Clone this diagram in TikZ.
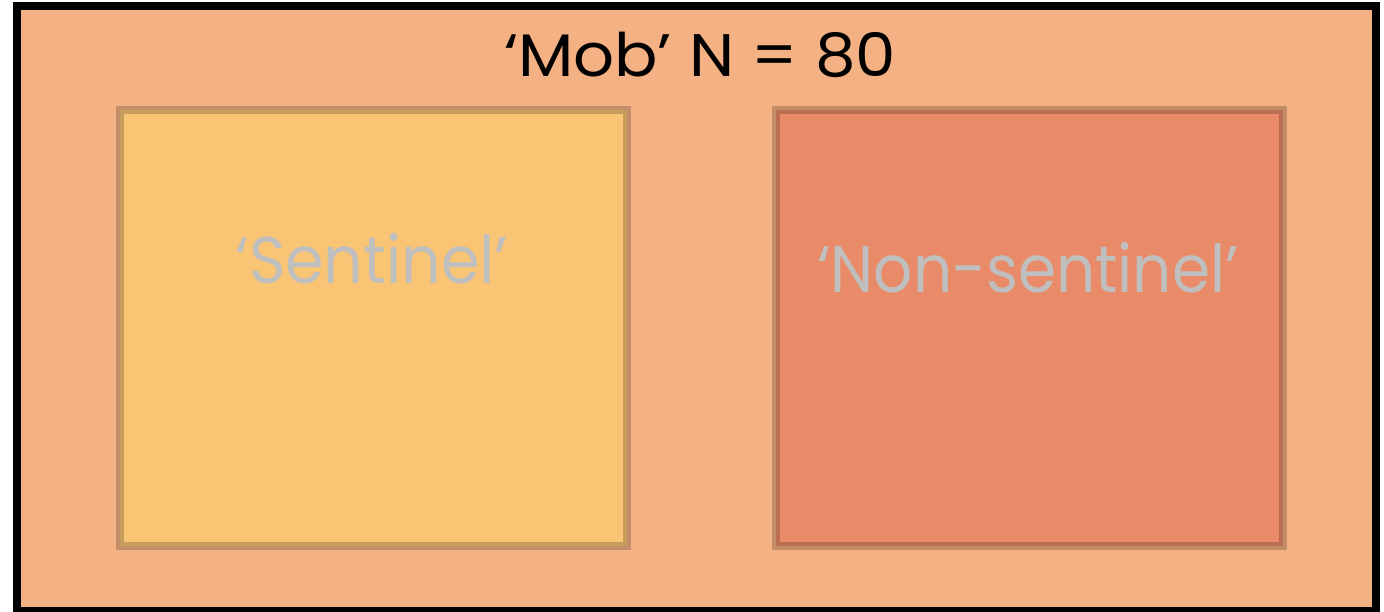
\documentclass[tikz,border=0pt]{standalone}
\usepackage{fontspec}
\usepackage{graphicx}
\setmainfont{Poppins}
\definecolor{mobfill}{HTML}{F4B183}
\definecolor{sentfill}{HTML}{F9C574}
\definecolor{nonfill}{HTML}{E98B68}
\definecolor{labelgray}{HTML}{BFBFBF}
\newcommand{\widetext}[2]{\scalebox{#1}[1]{#2}}
\begin{document}
\begin{tikzpicture}[x=1pt,y=-1pt,
  groupbox/.style={draw=black, draw opacity=0.2, line width=8pt},
  grouplabel/.style={anchor=base, text=labelgray, inner sep=0pt, font=\fontsize{66}{70}\selectfont},
  titlelabel/.style={anchor=base, text=black, inner sep=0pt, font=\fontsize{60}{64}\selectfont}]
  \useasboundingbox (0,0) rectangle (1384,612);
  % outer population frame
  \draw[fill=mobfill, line width=8pt] (16.5,6) rectangle (1375.5,611);
  \node[titlelabel] (mob) at (700,77) {\widetext{1.07}{‘Mob’ N = 80}};
  % the two subgroups
  \draw[groupbox, fill=sentfill] (120,110) rectangle (627,546);
  \draw[groupbox, fill=nonfill] (776,110) rectangle (1283,546);
  \node[grouplabel] (sent) at (372,284) {\widetext{0.94}{‘Sentinel’}};
  \node[grouplabel] (non) at (1028,293) {\widetext{0.93}{‘Non-sentinel’}};
\end{tikzpicture}
\end{document}
